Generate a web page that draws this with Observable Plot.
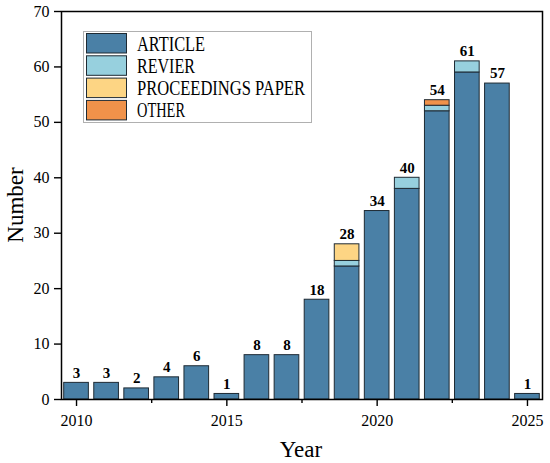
<!DOCTYPE html>
<html>
<head>
<meta charset="utf-8">
<script src="https://cdn.jsdelivr.net/npm/d3@7"></script>
<script src="https://cdn.jsdelivr.net/npm/@observablehq/plot@0.6"></script>
<style>
  html, body { margin: 0; padding: 0; background: #fff; }
  #chart svg { display: block; }
</style>
</head>
<body>
<div id="chart"></div>
<script>
const years = [2010, 2011, 2012, 2013, 2014, 2015, 2016, 2017, 2018, 2019, 2020, 2021, 2022, 2023, 2024, 2025];
const article     = [3, 3, 2, 4, 6, 1, 8, 8, 18, 24, 34, 38, 52, 59, 57, 1];
const revier      = [0, 0, 0, 0, 0, 0, 0, 0, 0, 1, 0, 2, 1, 2, 0, 0];
const proceedings = [0, 0, 0, 0, 0, 0, 0, 0, 0, 3, 0, 0, 0, 0, 0, 0];
const other       = [0, 0, 0, 0, 0, 0, 0, 0, 0, 0, 0, 0, 1, 0, 0, 0];
const types = ["ARTICLE", "REVIER", "PROCEEDINGS PAPER", "OTHER"];
const colors = ["#4a80a6", "#97d0de", "#fdd584", "#f0924a"];
const majorTicks = [2010, 2015, 2020, 2025];
const minorTicks = [2012.5, 2017.5, 2022.5];
const yTicks = [0, 10, 20, 30, 40, 50, 60, 70];

const series = [article, revier, proceedings, other];
const rows = [];
years.forEach((yr, i) => {
  types.forEach((t, k) => {
    rows.push({year: yr, type: t, value: series[k][i]});
  });
});
const totals = years.map((yr, i) => ({year: yr, total: series.reduce((s, a) => s + a[i], 0)}));

const half = 0.41;
const chart = Plot.plot({
  width: 550,
  height: 463,
  marginLeft: 61,
  marginRight: 8,
  marginTop: 11,
  marginBottom: 64,
  style: {fontFamily: "Liberation Serif", fontSize: "16px", color: "#000", background: "#fff"},
  x: {domain: [2009.5, 2025.5]},
  y: {domain: [0, 70]},
  color: {domain: types, range: colors},
  marks: [
    Plot.rectY(rows, Plot.stackY({
      x1: d => d.year - half,
      x2: d => d.year + half,
      y: "value",
      z: "type",
      order: types,
      fill: "type",
      stroke: "#1e2a33",
      strokeWidth: 1,
      filter: d => d.value > 0
    })),
    Plot.text(totals, {x: "year", y: "total", text: d => String(d.total), dy: -10, fontWeight: "bold", fontSize: 15, fill: "#000"}),
    Plot.axisX({ticks: majorTicks, tickFormat: d => String(d), tickSize: 7, tickPadding: 8, strokeWidth: 1.4, label: null}),
    Plot.axisX({ticks: minorTicks, tickSize: 4, text: null, strokeWidth: 1.4, label: null}),
    Plot.axisY({ticks: yTicks, tickSize: 7, tickPadding: 5, strokeWidth: 1.4, label: null}),
    Plot.frame({stroke: "#000", strokeWidth: 1.5})
  ]
});

document.getElementById("chart").appendChild(chart);

const svg = d3.select(chart);
// Axis titles
svg.append("text")
  .attr("x", 301).attr("y", 457)
  .attr("text-anchor", "middle")
  .attr("font-family", "Liberation Serif")
  .attr("font-size", 23)
  .attr("fill", "#000")
  .text("Year");
svg.append("text")
  .attr("transform", "translate(23,205) rotate(-90)")
  .attr("text-anchor", "middle")
  .attr("font-family", "Liberation Serif")
  .attr("font-size", 23)
  .attr("fill", "#000")
  .text("Number");

// Legend
const lg = svg.append("g").attr("text-anchor", "start");
lg.append("rect")
  .attr("x", 83.5).attr("y", 31.5).attr("width", 228).attr("height", 91)
  .attr("fill", "#fff").attr("stroke", "#b0b0b0").attr("stroke-width", 1);
types.forEach((t, i) => {
  const y0 = 33.5 + i * 22.3;
  lg.append("rect")
    .attr("x", 86.5).attr("y", y0).attr("width", 40).attr("height", 19.5)
    .attr("fill", colors[i]).attr("stroke", "#1e2a33").attr("stroke-width", 1);
  lg.append("text")
    .attr("x", 137).attr("y", y0 + 10)
    .attr("text-anchor", "start")
    .attr("dominant-baseline", "central")
    .attr("font-family", "Liberation Serif")
    .attr("font-size", 20)
    .attr("textLength", t.length * 10 - 2)
    .attr("lengthAdjust", "spacingAndGlyphs")
    .attr("fill", "#000")
    .text(t);
});
</script>
</body>
</html>
